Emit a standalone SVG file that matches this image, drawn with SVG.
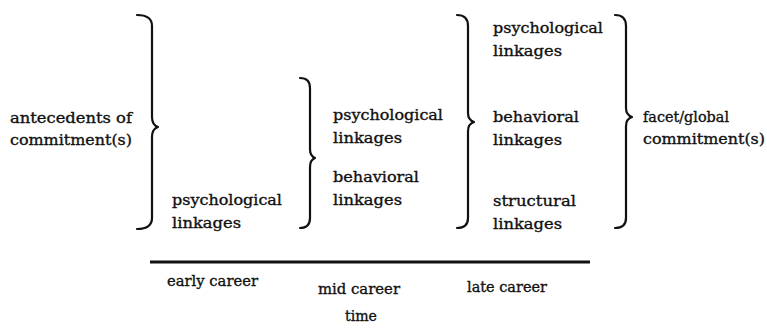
<svg xmlns="http://www.w3.org/2000/svg" width="767" height="330" viewBox="0 0 767 330">
<style>
text{font-family:"DejaVu Serif","Liberation Serif",serif;font-size:15px;fill:#111;stroke:#111;stroke-width:0.35;}
.br{fill:none;stroke:#111;stroke-width:2.2;stroke-linecap:round;stroke-linejoin:round;}
</style>
<rect width="767" height="330" fill="#fff"/>
<g id="connectors">
<path id="brace1" class="br" d="M137,15 Q152,15 152,26 L152,117 Q152,125 158,127 Q152,129 152,137 L152,218 Q152,229 137,229"/>
<path id="brace2" class="br" d="M300,78 Q310,78 310,88 L310,149 Q310,156 315,158 Q310,160 310,167 L310,218 Q310,228 300,228"/>
<path id="brace3" class="br" d="M457,15 Q468,15 468,26 L468,113 Q468,120 474,122 Q468,124 468,131 L468,218 Q468,228 457,228"/>
<path id="brace4" class="br" d="M615,15 Q626,15 626,26 L626,108 Q626,115 632,117 Q626,119 626,126 L626,218 Q626,228 615,228"/>
<line id="timeline" x1="150" y1="262" x2="590" y2="262" stroke="#111" stroke-width="2.8"/>
</g>
<g id="antecedents">
<text x="10" y="123" textLength="122" lengthAdjust="spacingAndGlyphs">antecedents of</text>
<text x="10" y="145" textLength="122" lengthAdjust="spacingAndGlyphs">commitment(s)</text>
</g>
<g id="early-psych">
<text x="172" y="205" textLength="110" lengthAdjust="spacingAndGlyphs">psychological</text>
<text x="172" y="228" textLength="69" lengthAdjust="spacingAndGlyphs">linkages</text>
</g>
<g id="mid-psych">
<text x="333" y="120" textLength="110" lengthAdjust="spacingAndGlyphs">psychological</text>
<text x="333" y="143" textLength="69" lengthAdjust="spacingAndGlyphs">linkages</text>
</g>
<g id="mid-behav">
<text x="333" y="182" textLength="86" lengthAdjust="spacingAndGlyphs">behavioral</text>
<text x="333" y="205" textLength="69" lengthAdjust="spacingAndGlyphs">linkages</text>
</g>
<g id="late-psych">
<text x="493" y="33" textLength="110" lengthAdjust="spacingAndGlyphs">psychological</text>
<text x="493" y="56" textLength="69" lengthAdjust="spacingAndGlyphs">linkages</text>
</g>
<g id="late-behav">
<text x="493" y="122" textLength="86" lengthAdjust="spacingAndGlyphs">behavioral</text>
<text x="493" y="145" textLength="69" lengthAdjust="spacingAndGlyphs">linkages</text>
</g>
<g id="late-struct">
<text x="493" y="206" textLength="83" lengthAdjust="spacingAndGlyphs">structural</text>
<text x="493" y="229" textLength="69" lengthAdjust="spacingAndGlyphs">linkages</text>
</g>
<g id="facet">
<text x="643" y="122" textLength="86" lengthAdjust="spacingAndGlyphs">facet/global</text>
<text x="643" y="144" textLength="122" lengthAdjust="spacingAndGlyphs">commitment(s)</text>
</g>
<g id="axis-labels">
<text x="167" y="286" textLength="91" lengthAdjust="spacingAndGlyphs">early career</text>
<text x="318" y="294" textLength="82" lengthAdjust="spacingAndGlyphs">mid career</text>
<text x="467" y="292" textLength="80" lengthAdjust="spacingAndGlyphs">late career</text>
<text x="345" y="321" textLength="32" lengthAdjust="spacingAndGlyphs">time</text>
</g>
</svg>
